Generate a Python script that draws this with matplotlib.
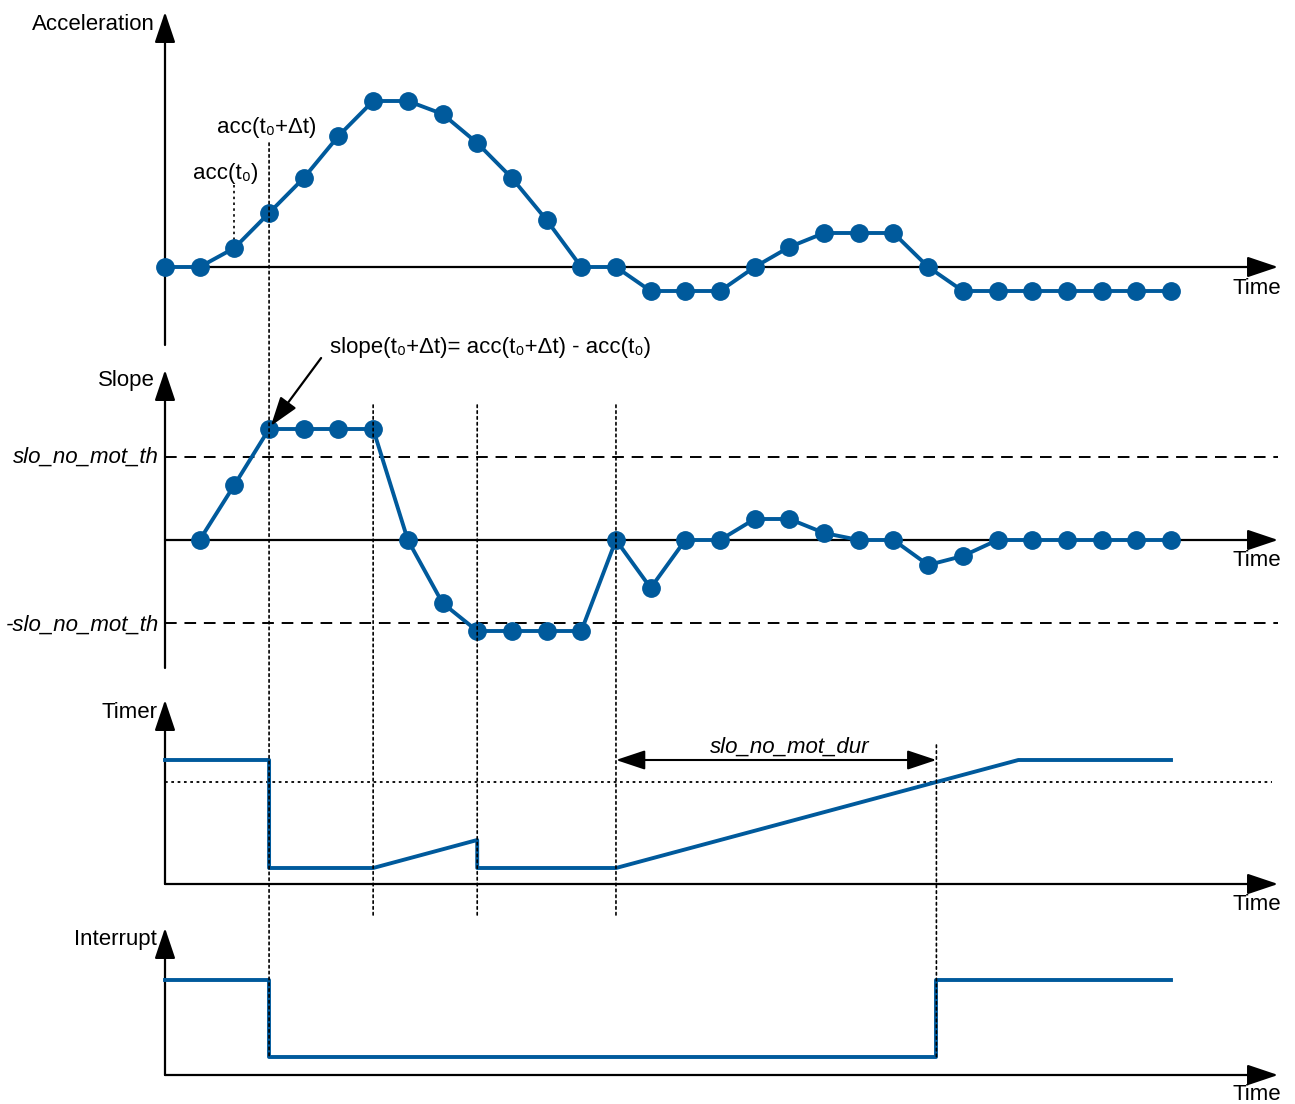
import matplotlib
matplotlib.use('Agg')
import matplotlib.pyplot as plt
from matplotlib.patches import ConnectionPatch
import numpy as np

# ---------------- data ----------------
t_acc = list(range(30))
acc = [0, 0, 19, 54, 89, 131, 166, 166, 153, 124, 89, 47, 0, 0, -24, -24, -24,
       0, 20, 34, 34, 34, 0, -24, -24, -24, -24, -24, -24, -24]
t_slope = list(range(1, 30))
slope = [0, 55, 111, 111, 111, 111, 0, -63, -91, -91, -91, -91, 0, -48, 0, 0,
         21, 21, 7, 0, 0, -25, -16, 0, 0, 0, 0, 0, 0]
slope_th = 83
t_timer = [0, 3, 3, 6, 9, 9, 13, 24.6, 29]
timer = [124, 124, 16, 16, 44, 16, 16, 124, 124]
timer_th = 102
t_event = 3            # t0 + dt
event_times = [6, 9, 13]
# time where timer crosses the duration threshold
t_cross = float(np.interp(timer_th, timer[6:8], t_timer[6:8]))
t_int = [0, 3, 3, t_cross, t_cross, 29]
intr = [95, 95, 18, 18, 95, 95]

# ---------------- layout ----------------
W, H = 1295, 1104
X0, DX = 165, 34.69
XL = (-X0 / DX, (W - X0) / DX)
X_END = (1278 - X0) / DX
BLUE = '#005A9C'
FONT = ['Liberation Sans', 'DejaVu Sans']
plt.rcParams['font.family'] = FONT

fig = plt.figure(figsize=(W / 100, H / 100), dpi=100)


def panel(top, bot, base):
    ax = fig.add_axes([0, 1 - bot / H, 1, (bot - top) / H])
    ax.set_xlim(*XL)
    ax.set_ylim(base - bot, base - top)
    ax.axis('off')
    return ax


def ftext(x, y, s, **kw):
    kw.setdefault('fontsize', 16)
    kw.setdefault('va', 'center')
    fig.text(x / W, 1 - y / H, s, **kw)


AX_ARROW = dict(arrowstyle='-|>,head_length=0.95,head_width=0.32', lw=1.6,
                color='black', shrinkA=0, shrinkB=0, mutation_scale=20)


def axes_lines(ax, ybot, ytop):
    ax.annotate('', xy=(0, ytop), xytext=(0, ybot), arrowprops=AX_ARROW)
    ax.annotate('', xy=(X_END, 0), xytext=(0, 0), arrowprops=AX_ARROW)


ax1 = panel(0, 350, 267)
ax2 = panel(350, 690, 540)
ax3 = panel(690, 920, 884)
ax4 = panel(920, 1104, 1075)

axes_lines(ax1, -78, 255)
axes_lines(ax2, -128, 170)
axes_lines(ax3, 0, 184)
axes_lines(ax4, 0, 147)

mk = dict(color=BLUE, lw=2.8, marker='o', ms=12.5, zorder=5, solid_joinstyle='round')
ax1.plot(t_acc, acc, **mk)
ax2.plot(t_slope, slope, **mk)
ax3.plot(t_timer, timer, color=BLUE, lw=2.8, zorder=5)
ax4.plot(t_int, intr, color=BLUE, lw=2.8, zorder=5)

# thresholds
for th in (slope_th, -slope_th):
    ax2.plot([0, X_END], [th, th], color='black', lw=1.4, ls=(0, (6, 4)))
ax3.plot([0, (1272 - X0) / DX], [timer_th, timer_th], color='black', lw=1.3,
         ls=(0, (1.5, 2)))

DOT = dict(color='black', lw=1.2, ls=(0, (1.5, 2)))
# acc(t0) guide
ax1.plot([t_event - 1, t_event - 1], [82, acc[t_event - 1]], **DOT)


def vline(axA, yA, axB, yB, x):
    cp = ConnectionPatch(xyA=(x, yA), coordsA='data', axesA=axA,
                         xyB=(x, yB), coordsB='data', axesB=axB, **DOT)
    cp.set_zorder(6)
    fig.add_artist(cp)


vline(ax1, 124, ax4, intr[2], t_event)
for te in event_times:
    vline(ax2, 135, ax3, -34, te)
vline(ax3, 139, ax4, intr[3], t_cross)

# slope annotation arrow
ax2.annotate('', xy=(t_event + 0.05, slope[t_event - 1] + 3), xytext=(4.5, 182),
             arrowprops=dict(arrowstyle='-|>,head_length=0.9,head_width=0.3',
                             lw=1.6, color='black', shrinkA=0, shrinkB=0,
                             mutation_scale=20), zorder=7)

# duration arrow
ax3.annotate('', xy=(t_cross, 124), xytext=(13, 124),
             arrowprops=dict(arrowstyle='<|-|>,head_length=0.9,head_width=0.3',
                             lw=1.5, color='black', shrinkA=0, shrinkB=0,
                             mutation_scale=20))

# texts
ftext(155, 24, 'Acceleration', ha='right')
ftext(217, 127, 'acc(t\u2080+\u0394t)', ha='left')
ftext(193, 173, 'acc(t\u2080)', ha='left')
for y in (288, 560, 905, 1095):
    ftext(1281, y, 'Time', ha='right')
ftext(330, 347, 'slope(t\u2080+\u0394t)= acc(t\u2080+\u0394t) - acc(t\u2080)', ha='left')
ftext(155, 381, 'Slope', ha='right')
ftext(159, 457, 'slo_no_mot_th', ha='right', style='italic')
ftext(159, 625, '-slo_no_mot_th', ha='right', style='italic')
ftext(157, 713, 'Timer', ha='right')
ftext(790, 747, 'slo_no_mot_dur', ha='center', style='italic')
ftext(157, 940, 'Interrupt', ha='right')

fig.savefig('out.png', dpi=100, facecolor='white')
